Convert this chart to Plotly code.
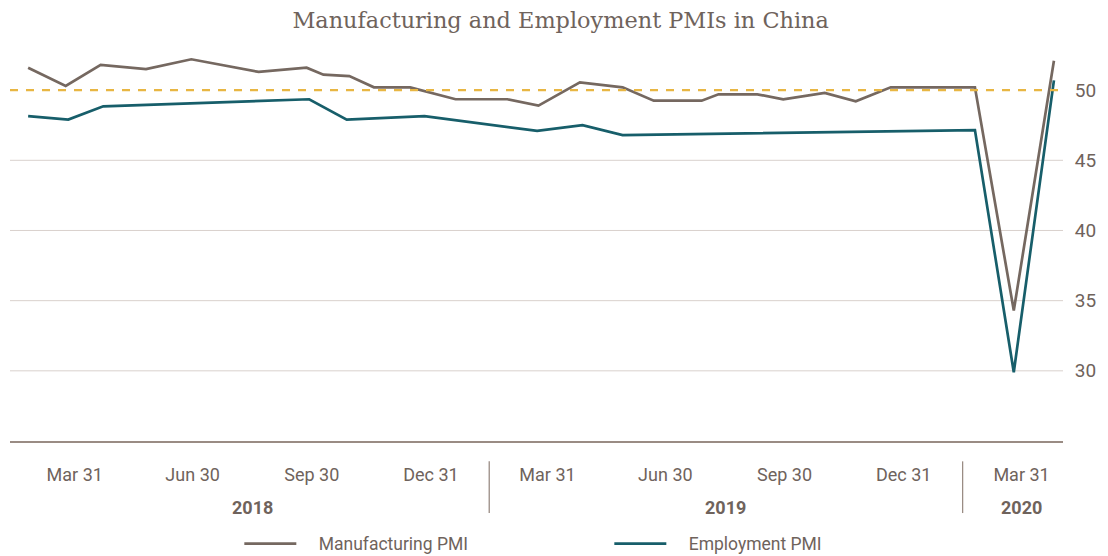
import plotly.graph_objects as go
import pandas as pd

# ---- data ----
mfg_dates = ["2018-02-23", "2018-03-24", "2018-04-20", "2018-05-25", "2018-06-29",
             "2018-08-20", "2018-09-26", "2018-10-09", "2018-10-29", "2018-11-17",
             "2018-12-15", "2019-01-19", "2019-02-28", "2019-03-24", "2019-04-25",
             "2019-05-28", "2019-06-21", "2019-07-28", "2019-08-10", "2019-09-09",
             "2019-09-29", "2019-10-31", "2019-11-24", "2019-12-21", "2020-02-24",
             "2020-03-25", "2020-04-25"]
mfg_values = [51.6, 50.3, 51.8, 51.5, 52.2,
              51.3, 51.6, 51.1, 51.0, 50.2,
              50.2, 49.35, 49.35, 48.9, 50.55,
              50.2, 49.25, 49.25, 49.7, 49.7,
              49.35, 49.8, 49.2, 50.2, 50.2,
              34.3, 52.1]

emp_dates = ["2018-02-23", "2018-03-26", "2018-04-22", "2018-09-28", "2018-10-27",
             "2018-12-26", "2019-03-23", "2019-04-27", "2019-05-28", "2020-02-24",
             "2020-03-25", "2020-04-25"]
emp_values = [48.15, 47.9, 48.85, 49.35, 47.9,
              48.15, 47.1, 47.5, 46.8, 47.15,
              29.9, 50.7]

threshold = 50
grid_values = [30, 35, 40, 45]
y_ticks = [30, 35, 40, 45, 50]

tick_dates = ["2018-03-31", "2018-06-30", "2018-09-30", "2018-12-31",
              "2019-03-31", "2019-06-30", "2019-09-30", "2019-12-31",
              "2020-03-31"]
tick_labels = ["Mar 31", "Jun 30", "Sep 30", "Dec 31",
               "Mar 31", "Jun 30", "Sep 30", "Dec 31",
               "Mar 31"]
years = ["2018", "2019", "2020"]
series_names = ["Manufacturing PMI", "Employment PMI"]

x_range = ["2018-02-09", "2020-05-02"]
y_range = [25, 54]

# ---- styling ----
BROWN = "#756860"
TEAL = "#175E6A"
GOLD = "#E8B643"
GRID = "#D9D1CD"
AXIS = "#9A8C84"
TEXT = "#6F635C"
SANS = "Roboto, Lato, 'Open Sans', sans-serif"
SERIF = "'DejaVu Serif', 'Liberation Serif', serif"
PAD = "\u00a0" * 4

fig = go.Figure()

for g in grid_values:
    fig.add_hline(y=g, line=dict(color=GRID, width=1), layer="below")

fig.add_trace(go.Scatter(x=pd.to_datetime(mfg_dates), y=mfg_values, mode="lines",
                         name=PAD + series_names[0],
                         line=dict(color=BROWN, width=2.7)))
fig.add_trace(go.Scatter(x=pd.to_datetime(emp_dates), y=emp_values, mode="lines",
                         name=PAD + series_names[1],
                         line=dict(color=TEAL, width=2.7)))

fig.add_hline(y=threshold, line=dict(color=GOLD, width=2.4, dash="8px,8px"))

# year group labels and dividers
td = pd.to_datetime(tick_dates)
for yr in years:
    in_year = [d for d in td if str(d.year) == yr]
    center = in_year[0] + (in_year[-1] - in_year[0]) / 2
    fig.add_annotation(x=center, xref="x", y=-0.163, yref="paper",
                       text="<b>%s</b>" % yr, showarrow=False,
                       font=dict(family=SANS, size=18, color=TEXT),
                       xanchor="center", yanchor="middle")
for i in range(1, len(td)):
    if td[i].year != td[i - 1].year:
        mid = td[i - 1] + (td[i] - td[i - 1]) / 2
        fig.add_shape(type="line", xref="x", yref="paper",
                      x0=mid, x1=mid, y0=-0.05, y1=-0.177,
                      line=dict(color=AXIS, width=1.3))

fig.update_layout(
    width=1108, height=556,
    margin=dict(l=10, r=45, t=34, b=115, autoexpand=False),
    paper_bgcolor="white", plot_bgcolor="white",
    title=dict(text="Manufacturing and Employment PMIs in China",
               x=0.506, xanchor="center", xref="container",
               y=0.963, yanchor="middle", yref="container",
               font=dict(family=SERIF, size=22.4, color=TEXT)),
    showlegend=True,
    legend=dict(orientation="h", x=0.216, xanchor="left", y=0.022,
                yanchor="middle", xref="container", yref="container",
                font=dict(family=SANS, size=17.5, color=TEXT),
                itemwidth=52, entrywidth=303, entrywidthmode="pixels"),
    xaxis=dict(type="date", range=x_range, tickvals=pd.to_datetime(tick_dates),
               ticktext=tick_labels, showgrid=False, zeroline=False,
               showline=True, linecolor=AXIS, linewidth=1.5,
               ticks="outside", ticklen=17, tickcolor="rgba(0,0,0,0)",
               tickfont=dict(family=SANS, size=18, color=TEXT)),
    yaxis=dict(range=y_range, side="right", tickvals=y_ticks, showgrid=False,
               zeroline=False, showline=False,
               ticks="outside", ticklen=7, tickcolor="rgba(0,0,0,0)",
               tickfont=dict(family=SANS, size=19, color=TEXT)),
)

fig.write_html("out.html")
